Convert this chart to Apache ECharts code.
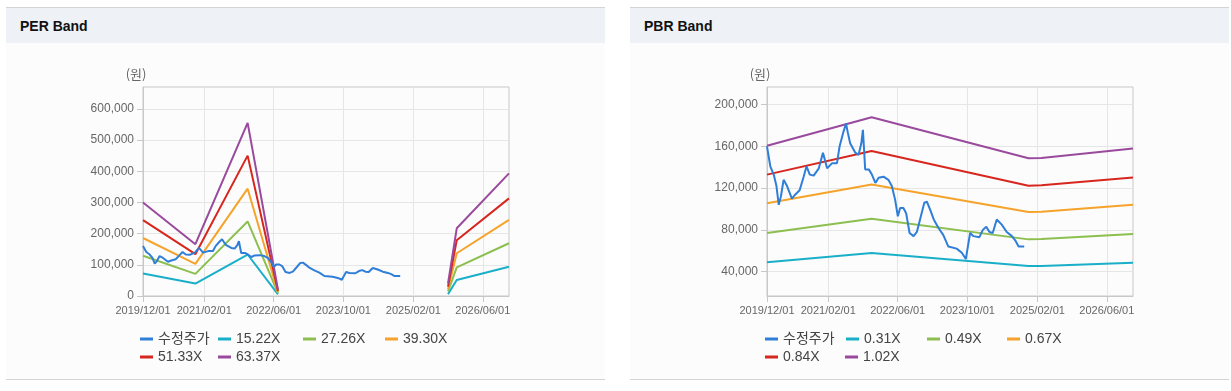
<!DOCTYPE html>
<html>
<head>
<meta charset="utf-8">
<script src="https://cdn.jsdelivr.net/npm/echarts@6/dist/echarts.min.js"></script>
<style>
  html, body { margin:0; padding:0; background:#ffffff; }
  body { width:1231px; height:391px; position:relative; overflow:hidden; }
  .panel { position:absolute; top:7px; height:371px; background:#fcfcfc;
           border-top:1px solid #d4d4d4; border-bottom:1px solid #d4d4d4; }
  .hdr { font: bold 14px "Liberation Sans", Arial, sans-serif; height:35px; line-height:36px; background:#eef2f7; padding-left:14px; color:#111; }
  #chart { position:absolute; left:0; top:0; width:1231px; height:391px; }
</style>
</head>
<body>
<div class="panel" style="left:6px;width:599px;"><div class="hdr">PER Band</div></div>
<div class="panel" style="left:630px;width:599px;"><div class="hdr">PBR Band</div></div>
<div id="chart"></div>
<script>
// ---------------- data ----------------
const xStart = '2019/12/01';
const xEnd = '2026/12/01';
const xTickDates = ['2019/12/01','2021/02/01','2022/06/01','2023/10/01','2025/02/01','2026/06/01'];
const perYTicks = [0,100000,200000,300000,400000,500000,600000];
const pbrYTicks = [40000,80000,120000,160000,200000];

const priceName = '수정주가';
const priceDates = [
 '2019/12/01','2019/12/24','2020/01/17','2020/02/05','2020/02/21','2020/03/07','2020/03/26','2020/04/19',
 '2020/05/23','2020/06/16','2020/07/16','2020/08/13','2020/09/02','2020/09/25','2020/10/22','2020/11/27',
 '2020/12/26','2021/01/24','2021/02/28','2021/04/03','2021/04/21','2021/05/18','2021/06/05','2021/06/18',
 '2021/07/04','2021/08/09','2021/09/01','2021/09/20','2021/10/01','2021/10/17','2021/11/11','2021/12/03',
 '2021/12/27','2022/01/19','2022/02/22','2022/03/28','2022/04/21','2022/05/14','2022/06/02','2022/06/18',
 '2022/07/11','2022/07/30','2022/08/23','2022/09/20','2022/10/13','2022/11/10','2022/12/04','2022/12/22',
 '2023/01/15','2023/02/08','2023/03/12','2023/04/16','2023/05/21','2023/07/18','2023/08/23','2023/09/20',
 '2023/10/20','2023/11/13','2023/12/24','2024/01/17','2024/02/10','2024/03/03','2024/03/26','2024/04/23',
 '2024/05/28','2024/07/02','2024/08/07','2024/08/30','2024/09/23','2024/11/01'];
const priceValues = [
 160000,141000,133000,122000,104000,112000,128000,122000,
 110000,114000,118000,131000,141000,133000,132000,139000,
 154000,139000,144000,144000,160000,174000,182000,173000,
 163000,154000,152000,163000,176000,138000,138000,133000,
 125000,130000,131000,128000,122000,109000,93000,101000,
 101000,96000,77000,74000,78000,93000,106000,107000,
 99000,90000,82000,75000,64000,62000,58000,52000,
 77000,74000,73000,80000,83000,78000,77000,90000,
 85000,78000,74000,70000,64000,64000];

const perNames = ['15.22X','27.26X','39.30X','51.33X','63.37X'];
const perBandDates = ['2019/12/01','2020/12/01','2021/12/01','2022/07/01','2023/12/01','2025/10/01','2025/12/01','2026/12/01'];
const per1522 = [72000, 40000, 133000, 5000, null, 6000, 51000, 94000];
const per2726 = [129000, 71000, 239000, 9000, null, 15000, 92000, 169000];
const per3930 = [186000, 103000, 344000, 12000, null, 22000, 137000, 244000];
const per5133 = [243000, 134000, 450000, 16000, null, 30000, 179000, 313000];
const per6337 = [300000, 166000, 555000, 20000, null, 40000, 217000, 393000];

const pbrNames = ['0.31X','0.49X','0.67X','0.84X','1.02X'];
const pbrBandDates = ['2019/12/01','2021/12/01','2024/12/01','2025/03/01','2026/12/01'];
const pbr031 = [49000, 57800, 45300, 45400, 48400];
const pbr049 = [77000, 90600, 70900, 71200, 76100];
const pbr067 = [105600, 123500, 97200, 97400, 104000];
const pbr084 = [133000, 155600, 122400, 122700, 130300];
const pbr102 = [160700, 188000, 148700, 149000, 158000];

// ---------------- helpers ----------------
const colors = ['#2f7ed8', '#1aafc9', '#8cbf4f', '#f5a32a', '#d7261e', '#9a4a9c'];
function ts(s) { const p = s.split('/'); return new Date(+p[0], +p[1]-1, +p[2]).getTime(); }
function pad(n) { return (n < 10 ? '0' : '') + n; }
function fmtDate(v) { const d = new Date(v); return d.getFullYear() + '/' + pad(d.getMonth()+1) + '/' + pad(d.getDate()); }
function pairs(dates, vals) { return dates.map((d, i) => [ts(d), vals[i] == null ? '-' : vals[i]]); }
function fmtNum(v) { return Math.round(v).toLocaleString('en-US'); }

const axisColor = '#c8c8c8';
const gridColor = '#e6e6e6';
const labelFont = '"Liberation Sans", Arial, sans-serif';

function makeX(gi) {
  const tv = xTickDates.map(ts);
  return {
    type: 'value', gridIndex: gi, min: ts(xStart), max: ts(xEnd), scale: true,
    axisLine: { show: true, lineStyle: { color: axisColor } },
    axisTick: { show: true, length: 6, lineStyle: { color: axisColor }, customValues: tv },
    axisLabel: { customValues: tv, formatter: fmtDate, color: '#666', fontSize: 11, fontFamily: labelFont, margin: 9 },
    splitLine: { show: true, lineStyle: { color: gridColor } }
  };
}
function makeY(gi, min, max, ticks) {
  return {
    type: 'value', gridIndex: gi, min: min, max: max,
    name: '(원)', nameLocation: 'end', nameGap: 6,
    nameTextStyle: { color: '#666', fontSize: 13, fontFamily: '"Noto Sans CJK KR", sans-serif', padding: [0, 14, 0, 0] },
    axisLine: { show: true, lineStyle: { color: axisColor } },
    axisTick: { show: true, length: 6, lineStyle: { color: axisColor }, customValues: ticks },
    axisLabel: { customValues: ticks, formatter: fmtNum, color: '#666', fontSize: 12, fontFamily: labelFont, margin: 9 },
    splitLine: { show: true, lineStyle: { color: gridColor } }
  };
}
function line(name, data, gi, color, z) {
  return { type: 'line', name: name, xAxisIndex: gi, yAxisIndex: gi, data: data,
           showSymbol: false, symbol: 'none', connectNulls: false, z: z,
           lineStyle: { width: 2, color: color }, itemStyle: { color: color } };
}

const series = [];
const perVals = [per1522, per2726, per3930, per5133, per6337];
const pbrVals = [pbr031, pbr049, pbr067, pbr084, pbr102];
perNames.forEach((n, i) => series.push(line(n, pairs(perBandDates, perVals[i]), 0, colors[i+1], 2)));
series.push(line(priceName, pairs(priceDates, priceValues), 0, colors[0], 3));
pbrNames.forEach((n, i) => series.push(line(n, pairs(pbrBandDates, pbrVals[i]), 1, colors[i+1], 2)));
series.push(line(priceName, pairs(priceDates, priceValues), 1, colors[0], 3));

function leg(name, left, top) {
  return { data: [name], left: left, top: top, padding: 0, itemWidth: 13, itemHeight: 3, icon: 'rect',
           itemGap: 0, selectedMode: false,
           textStyle: { color: '#444', fontSize: 14, fontFamily: '"Liberation Sans", "Noto Sans CJK KR", Arial, sans-serif' } };
}
const legends = [
  leg(priceName, 140, 332), leg(perNames[0], 218, 332), leg(perNames[1], 303, 332), leg(perNames[2], 385, 332),
  leg(perNames[3], 140, 350), leg(perNames[4], 218, 350),
  leg(priceName, 765, 332), leg(pbrNames[0], 846, 332), leg(pbrNames[1], 927, 332), leg(pbrNames[2], 1007, 332),
  leg(pbrNames[3], 765, 350), leg(pbrNames[4], 845, 350)
];

const chart = echarts.init(document.getElementById('chart'));
chart.setOption({
  animation: false,
  backgroundColor: 'transparent',
  grid: [
    { left: 143, top: 87, width: 366, height: 209, show: true, borderColor: axisColor, borderWidth: 1, backgroundColor: 'transparent' },
    { left: 767, top: 87, width: 366, height: 209, show: true, borderColor: axisColor, borderWidth: 1, backgroundColor: 'transparent' }
  ],
  xAxis: [makeX(0), makeX(1)],
  yAxis: [makeY(0, 0, 670000, perYTicks), makeY(1, 16600, 217000, pbrYTicks)],
  legend: legends,
  series: series
});
</script>
</body>
</html>
